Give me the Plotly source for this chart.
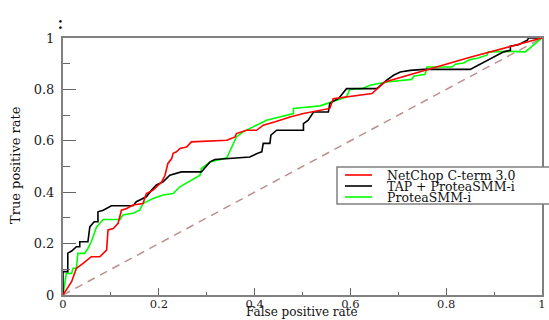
import plotly.graph_objects as go

# ---- data ----
series_names = ["NetChop C-term 3.0", "TAP + ProteaSMM-i", "ProteaSMM-i"]
series_colors = ["#ff0000", "#000000", "#00ff00"]

netchop_fpr = [0, 0.007, 0.018, 0.024, 0.028, 0.042, 0.059, 0.077, 0.091, 0.094, 0.105, 0.115,
               0.122, 0.133, 0.146, 0.167, 0.174, 0.188, 0.195, 0.206, 0.213, 0.219, 0.227,
               0.230, 0.237, 0.244, 0.258, 0.268, 0.342, 0.359, 0.362, 0.383, 0.404, 0.418,
               0.443, 0.474, 0.502, 0.557, 0.564, 0.592, 0.645, 0.672, 0.850, 1.0]
netchop_tpr = [0, 0.019, 0.052, 0.084, 0.104, 0.123, 0.149, 0.149, 0.175, 0.253, 0.259, 0.279,
               0.330, 0.337, 0.350, 0.356, 0.395, 0.408, 0.421, 0.440, 0.466, 0.512, 0.531,
               0.551, 0.557, 0.570, 0.576, 0.596, 0.602, 0.615, 0.628, 0.641, 0.641, 0.661,
               0.674, 0.693, 0.706, 0.726, 0.764, 0.771, 0.784, 0.829, 0.925, 1.0]

tap_fpr = [0, 0, 0.010, 0.010, 0.018, 0.028, 0.035, 0.035, 0.052, 0.056, 0.065, 0.073, 0.073,
           0.084, 0.101, 0.146, 0.153, 0.174, 0.185, 0.195, 0.209, 0.223, 0.247, 0.289, 0.296,
           0.307, 0.317, 0.390, 0.408, 0.415, 0.418, 0.432, 0.434, 0.446, 0.502, 0.502, 0.512,
           0.523, 0.554, 0.557, 0.568, 0.575, 0.592, 0.655, 0.676, 0.690, 0.704, 0.725, 0.753,
           0.850, 0.920, 0.934, 0.934, 0.951, 0.969, 0.972, 1.0]
tap_tpr = [0, 0.091, 0.091, 0.163, 0.171, 0.188, 0.188, 0.207, 0.207, 0.265, 0.285, 0.285, 0.324,
           0.330, 0.347, 0.347, 0.363, 0.382, 0.408, 0.428, 0.440, 0.466, 0.479, 0.479, 0.494,
           0.518, 0.527, 0.537, 0.553, 0.557, 0.590, 0.590, 0.622, 0.641, 0.641, 0.667, 0.680,
           0.712, 0.712, 0.745, 0.758, 0.764, 0.803, 0.803, 0.836, 0.855, 0.868, 0.874, 0.878,
           0.878, 0.946, 0.952, 0.968, 0.974, 0.991, 1.0, 1.0]

protea_fpr = [0, 0.007, 0.018, 0.021, 0.028, 0.031, 0.045, 0.052, 0.059, 0.066, 0.070, 0.077,
              0.084, 0.119, 0.125, 0.146, 0.160, 0.167, 0.188, 0.209, 0.230, 0.244, 0.286,
              0.289, 0.307, 0.342, 0.352, 0.362, 0.376, 0.390, 0.408, 0.425, 0.481, 0.481,
              0.537, 0.561, 0.578, 0.592, 0.599, 0.624, 0.641, 0.676, 0.728, 0.732, 0.756,
              0.760, 0.812, 0.819, 0.836, 0.850, 0.867, 0.885, 0.888, 0.934, 0.965, 1.0]
protea_tpr = [0, 0.084, 0.084, 0.104, 0.104, 0.162, 0.162, 0.181, 0.207, 0.246, 0.265, 0.279,
              0.294, 0.294, 0.311, 0.318, 0.330, 0.356, 0.376, 0.389, 0.395, 0.421, 0.466,
              0.492, 0.518, 0.534, 0.576, 0.615, 0.635, 0.648, 0.667, 0.680, 0.706, 0.726,
              0.736, 0.751, 0.764, 0.771, 0.801, 0.803, 0.816, 0.829, 0.839, 0.851, 0.859,
              0.887, 0.887, 0.898, 0.903, 0.916, 0.922, 0.933, 0.946, 0.948, 0.946, 1.0]

diag = [0, 1]

tick_vals = [0, 0.2, 0.4, 0.6, 0.8, 1]
tick_text = ["0", "0.2", "0.4", "0.6", "0.8", "1"]

# ---- figure ----
W, H = 549, 320
ML, MR, MT, MB = 63, 7, 38, 25
PW, PH = W - ML - MR, H - MT - MB


def px_x(px):
    return (px - ML) / PW


def px_y(py):
    return (H - MB - py) / PH


FONT = "DejaVu Serif, Liberation Serif, serif"
AXC = "#808080"

fig = go.Figure()
fig.add_trace(go.Scatter(x=diag, y=diag, mode="lines", showlegend=False,
                         line=dict(color="#bc8f8f", width=1.5, dash="8px,6px")))
for xs, ys, name, col in [(protea_fpr, protea_tpr, series_names[2], series_colors[2]),
                          (tap_fpr, tap_tpr, series_names[1], series_colors[1]),
                          (netchop_fpr, netchop_tpr, series_names[0], series_colors[0])]:
    fig.add_trace(go.Scatter(x=xs, y=ys, mode="lines", name=name, showlegend=False,
                             line=dict(color=col, width=1.6)))

axis_common = dict(range=[0, 1], tickvals=tick_vals, ticktext=tick_text, showgrid=False,
                   zeroline=False, showline=True, linecolor=AXC, linewidth=2, mirror=True,
                   ticks="inside", tickcolor="#666666", tickwidth=1.2, automargin=False)
fig.update_xaxes(**axis_common, ticklen=7, ticklabelstandoff=-3,
                 tickfont=dict(family=FONT, size=11.5, color="#222222"),
                 minor=dict(dtick=0.1, ticks="inside", ticklen=3, tickcolor="#666666", tickwidth=1.2))
fig.update_yaxes(**axis_common, ticklen=13, ticklabelstandoff=4,
                 tickfont=dict(family=FONT, size=13, color="#222222"),
                 minor=dict(dtick=0.1, ticks="inside", ticklen=7, tickcolor="#666666", tickwidth=1.2))

# legend box drawn in paper coordinates
lx0, lx1, ly0, ly1 = 337, 552, 167, 204
row_y = [175, 186, 197]
shapes = [dict(type="rect", xref="paper", yref="paper", x0=px_x(lx0), x1=px_x(lx1),
               y0=px_y(ly1), y1=px_y(ly0), line=dict(color=AXC, width=1.5), fillcolor="white",
               layer="above")]
annotations = []
for name, col, ry in zip(series_names, series_colors, row_y):
    shapes.append(dict(type="line", xref="paper", yref="paper", x0=px_x(345), x1=px_x(372),
                       y0=px_y(ry), y1=px_y(ry), line=dict(color=col, width=1.6), layer="above"))
    annotations.append(dict(xref="paper", yref="paper", x=px_x(385), y=px_y(ry), text=name,
                            showarrow=False, xanchor="left", yanchor="middle",
                            font=dict(family=FONT, size=12.5, color="#111111")))

annotations.append(dict(xref="paper", yref="paper", x=px_x(302), y=px_y(321),
                        text="False positive rate", showarrow=False, xanchor="center",
                        yanchor="bottom", font=dict(family=FONT, size=12, color="#111111")))
annotations.append(dict(xref="paper", yref="paper", x=px_x(15), y=px_y(165),
                        text="True positive rate", showarrow=False, textangle=-90,
                        xanchor="center", yanchor="middle",
                        font=dict(family=FONT, size=13, color="#111111")))
annotations.append(dict(xref="paper", yref="paper", x=px_x(60), y=px_y(22), text=":",
                        showarrow=False, xanchor="center", yanchor="middle",
                        font=dict(family=FONT, size=20, color="#000000")))

fig.update_layout(width=W, height=H, margin=dict(l=ML, r=MR, t=MT, b=MB),
                  plot_bgcolor="white", paper_bgcolor="white", showlegend=False,
                  shapes=shapes, annotations=annotations)

fig.write_html("out.html", config={"displayModeBar": False},
               post_script="document.body.style.margin='0';document.body.style.overflow='hidden';")
